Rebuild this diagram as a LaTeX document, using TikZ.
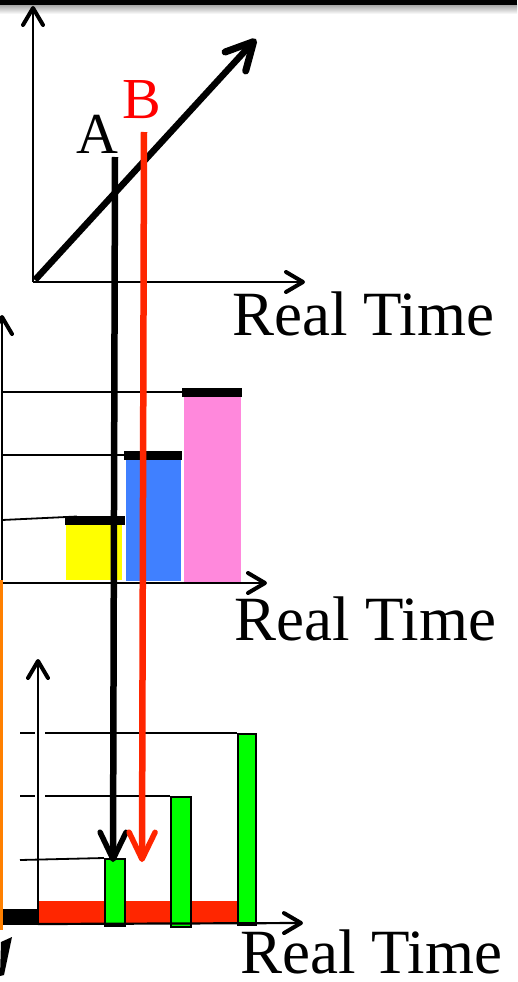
\documentclass[tikz,border=0pt]{standalone}
\usepackage{fontspec}
\setmainfont{Liberation Serif}
\usetikzlibrary{arrows.meta}
\definecolor{redline}{RGB}{255,38,0}
\definecolor{textred}{RGB}{255,0,0}
\definecolor{barblue}{RGB}{64,128,255}
\definecolor{barpink}{RGB}{255,136,220}
\definecolor{baryellow}{RGB}{255,255,0}
\definecolor{bargreen}{RGB}{0,255,0}
\definecolor{orangeline}{RGB}{255,128,0}
\tikzset{
  axisline/.style={line width=2.2pt,-{Straight Barb[length=17pt,width=20pt,line width=4pt,round]}},
  thinline/.style={line width=1.8pt},
  capbar/.style={fill=black},
  greenbar/.style={fill=bargreen,draw=black,line width=2.2pt},
  bigarrow/.style={line width=6.5pt,-{Straight Barb[length=27pt,width=28pt,line width=7pt,round]}},
  markarrow/.style={line width=6.5pt,-{Straight Barb[length=27pt,width=26pt,line width=5.5pt,round]}},
  lbl/.style={inner sep=0pt,anchor=base west,font=\fontsize{63}{63}\selectfont},
  letter/.style={inner sep=0pt,anchor=base west,font=\fontsize{58}{58}\selectfont}
}
\begin{document}
\begin{tikzpicture}[x=1pt,y=-1pt]
\useasboundingbox (0,0) rectangle (517,982);
\fill[white] (0,0) rectangle (517,982);
% top bar with shadow
\shade[top color=gray!70,bottom color=white] (0,5) rectangle (517,14);
\fill[black] (0,0) rectangle (517,5.5);

% ---------- top chart ----------
\coordinate (o1) at (33,282);
\coordinate (y1) at (33,6);
\coordinate (x1) at (305,282);
\coordinate (d0) at (35,280);
\coordinate (d1) at (256,39);
\draw[axisline] (o1) -- (y1);
\draw[axisline] (o1) -- (x1);
\draw[bigarrow] (d0) -- (d1);
\node[lbl] (rt1) at (232,335) {Real Time};

% ---------- middle chart ----------
\coordinate (o2) at (2,583);
\coordinate (y2) at (2,315);
\coordinate (x2) at (267,583);
\coordinate (x2s) at (-2,583);
\fill[baryellow] (66,524) rectangle (122,580);
\fill[barblue] (126,459) rectangle (181,581);
\fill[barpink] (184,396) rectangle (241,582);
\draw[thinline] (2,392) -- (182,392);
\draw[thinline] (2,455) -- (124,455);
\draw[thinline] (2,520) -- (77,516.5);
\fill[capbar] (182,388) rectangle (242,396.5);
\fill[capbar] (124,451) rectangle (182,459.5);
\fill[capbar] (65,516) rectangle (125,524.5);
\draw[axisline] (o2) -- (y2);
\draw[axisline] (x2s) -- (x2);
\node[lbl] (rt2) at (234,640) {Real Time};
\draw[orangeline,line width=2.6pt] (1.3,580) -- (1.3,930);

% ---------- bottom chart ----------
\coordinate (o3) at (38,925);
\coordinate (y3) at (38,659);
\coordinate (x3) at (303,923);
\fill[redline] (38,901) rectangle (237,923);
\draw[thinline] (20,733) -- (35,733);
\draw[thinline] (45,733) -- (237,733);
\draw[thinline] (20,796) -- (35,796);
\draw[thinline] (45,796) -- (170,796);
\draw[thinline] (20,860) -- (104,858);
\node[greenbar,inner sep=0pt,minimum width=20pt,minimum height=67pt,anchor=north west] (g1) at (104,858) {};
\node[greenbar,inner sep=0pt,minimum width=20pt,minimum height=130pt,anchor=north west] (g2) at (170,796) {};
\node[greenbar,inner sep=0pt,minimum width=18pt,minimum height=191pt,anchor=north west] (g3) at (237,733) {};
\draw[axisline] (o3) -- (y3);
\draw[axisline] (38,924) -- (x3);
\fill[black] (3,909) rectangle (38,925);
\fill[black] (12,937) -- (1,942) -- (0,976) -- (4,975) -- cycle;
\node[lbl] (rt3) at (240,973) {Real Time};

% ---------- A / B markers ----------
\node[letter] (A) at (76,153) {A};
\node[letter,text=textred] (B) at (122,118) {B};
\coordinate (a0) at (115,157);
\coordinate (a1) at (113,862);
\coordinate (b0) at (144,132);
\coordinate (b1) at (142,862);
\draw[markarrow] (a0) -- (a1);
\draw[markarrow,redline] (b0) -- (b1);
\end{tikzpicture}
\end{document}
